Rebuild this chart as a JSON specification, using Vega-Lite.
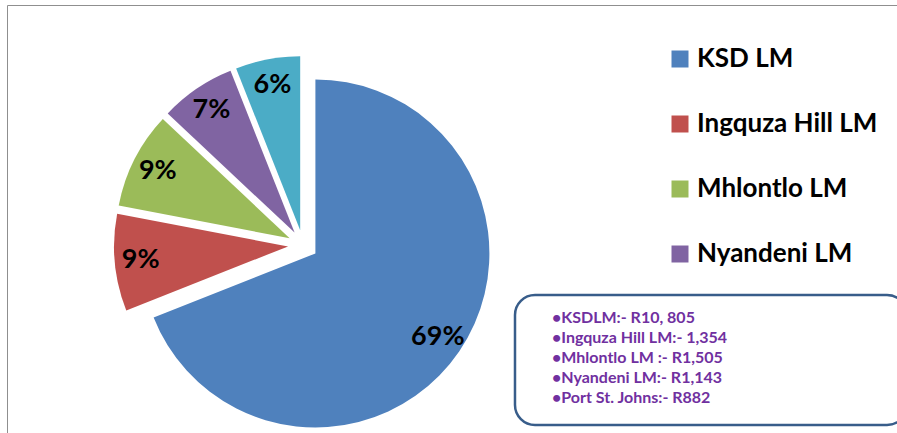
{
  "$schema": "https://vega.github.io/schema/vega-lite/v6.json",
  "width": 900,
  "height": 440,
  "autosize": "none",
  "padding": {"left": 7, "top": 5, "right": 0, "bottom": 0},
  "background": "white",
  "config": {"view": {"stroke": "#8f8f8f", "strokeWidth": 1}, "font": "Lato", "legend": {"strokeWidth": 2.5}},
  "data": {"values": [
    {"name": "KSD LM", "share": 69, "note": "•KSDLM:- R10, 805"},
    {"name": "Ingquza Hill LM", "share": 9, "note": "•Ingquza Hill LM:- 1,354"},
    {"name": "Mhlontlo LM", "share": 9, "note": "•Mhlontlo LM :- R1,505"},
    {"name": "Nyandeni LM", "share": 7, "note": "•Nyandeni LM:- R1,143"},
    {"name": "Port St. Johns LM", "share": 6, "note": "•Port St. Johns:- R882"}
  ]},
  "transform": [
    {"window": [{"op": "row_number", "as": "idx"}]},
    {"stack": "share", "groupby": [], "sort": [{"field": "idx", "order": "ascending"}], "as": ["t0", "t1"]},
    {"joinaggregate": [{"op": "sum", "field": "share", "as": "total"}]},
    {"calculate": "2 * PI * datum.t0 / datum.total", "as": "a0"},
    {"calculate": "2 * PI * datum.t1 / datum.total", "as": "a1"},
    {"calculate": "(datum.a0 + datum.a1) / 2", "as": "ang"},
    {"calculate": "sin(datum.ang)", "as": "ex"},
    {"calculate": "cos(datum.ang)", "as": "ey"},
    {"calculate": "format(datum.share / datum.total, '.0%')", "as": "pct"}
  ],
  "encoding": {
    "x": {"field": "ex", "type": "quantitative", "axis": null, "scale": {"domain": [-1, 1], "range": [281, 311]}},
    "y": {"field": "ey", "type": "quantitative", "axis": null, "scale": {"domain": [-1, 1], "range": [255, 225]}}
  },
  "layer": [
    {
      "mark": {"type": "arc", "outerRadius": 174},
      "encoding": {
        "theta": {"field": "a0", "type": "quantitative", "scale": null, "stack": null},
        "theta2": {"field": "a1"},
        "color": {
          "field": "name", "type": "nominal", "sort": null,
          "scale": {"range": ["#4F81BD", "#C0504D", "#9BBB59", "#8064A2", "#4BACC6"]},
          "legend": {
            "orient": "none", "legendX": 660, "legendY": 41, "title": null,
            "values": ["KSD LM", "Ingquza Hill LM", "Mhlontlo LM", "Nyandeni LM"],
            "symbolType": "square", "symbolSize": 289, "symbolStrokeWidth": 0,
            "labelFontSize": 26, "labelFontWeight": "bold", "labelFont": "Lato",
            "labelColor": "black", "labelLimit": 400, "rowPadding": 39,
            "labelOffset": 4, "padding": 0
          }
        },
        "opacity": {
          "field": "note", "type": "nominal", "sort": null,
          "scale": {"range": [1, 1]},
          "legend": {
            "orient": "none", "legendX": 508, "legendY": 290,
            "title": " ", "titleOrient": "right", "titlePadding": 165,
            "titleFontSize": 104, "titleFont": "Lato",
            "padding": 15, "strokeColor": "#385D8A",
            "cornerRadius": 20, "fillColor": "white",
            "labelFontSize": 16, "labelFontWeight": "bold", "labelColor": "#7030A0",
            "labelFont": "Lato", "labelLimit": 400, "rowPadding": 4,
            "symbolType": "circle", "symbolSize": 0, "symbolFillColor": "white",
            "symbolStrokeColor": "white", "symbolStrokeWidth": 0, "labelOffset": 6
          }
        }
      }
    },
    {
      "mark": {"type": "text", "radius": 148, "fontSize": 27, "fontWeight": "bold", "color": "black", "font": "Lato"},
      "encoding": {
        "theta": {"field": "ang", "type": "quantitative", "scale": null},
        "text": {"field": "pct"}
      }
    }
  ]
}
